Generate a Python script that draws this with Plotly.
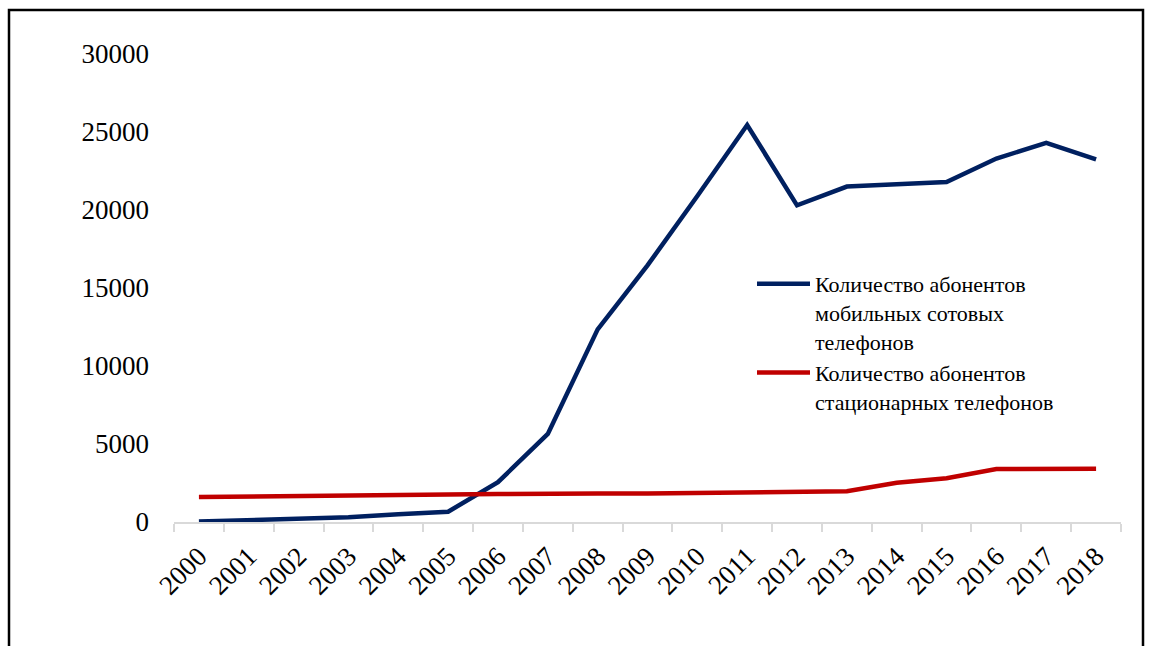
import plotly.graph_objects as go

years = [str(y) for y in range(2000, 2019)]
mobile = [30, 120, 170, 300, 500, 660, 2550, 5650, 12350, 16450, 20900, 25450,
          20300, 21500, 21650, 21800, 23300, 24300, 23250]
fixed = [1600, 1620, 1640, 1680, 1720, 1760, 1800, 1780, 1820, 1820, 1860, 1880,
         1940, 1970, 2520, 2800, 3400, 3430, 3420]

name_mobile = "Количество абонентов<br>мобильных сотовых<br>телефонов"
name_fixed = "Количество абонентов<br>стационарных телефонов"

FONT = "Liberation Serif"

# plot area in pixels (used to place the outer frame in paper units)
W, H = 1151, 646
L, R, T, B = 174, 30, 54, 124
pw, ph = W - L - R, H - T - B


def px_x(p):
    return (p - L) / pw


def px_y(p):
    return (H - B - p) / ph


fig = go.Figure()
fig.add_trace(go.Scatter(x=years, y=mobile, mode="lines", name=name_mobile,
                         line=dict(color="#002060", width=4.5)))
fig.add_trace(go.Scatter(x=years, y=fixed, mode="lines", name=name_fixed,
                         line=dict(color="#c00000", width=4.5)))

fig.update_layout(
    width=W, height=H,
    margin=dict(l=L, r=R, t=T, b=B, autoexpand=False),
    paper_bgcolor="white", plot_bgcolor="white",
    font=dict(family=FONT, color="black"),
    showlegend=True,
    legend=dict(x=px_x(752), y=px_y(263), xanchor="left", yanchor="top",
                bgcolor="rgba(0,0,0,0)", font=dict(size=22, family=FONT),
                valign="top", itemwidth=53, tracegroupgap=0),
    xaxis=dict(type="category", showgrid=False, showline=True,
               linecolor="#d9d9d9", linewidth=1.5,
               ticks="outside", tickson="boundaries", ticklen=8,
               tickcolor="#d9d9d9", tickwidth=1.5,
               tickangle=-45, tickfont=dict(size=27, family=FONT),
               ticklabelstandoff=6, range=[-0.5, 18.5]),
    yaxis=dict(range=[0, 30000], tickvals=[0, 5000, 10000, 15000, 20000, 25000, 30000],
               ticktext=["0", "5000", "10000", "15000", "20000", "25000", "30000"],
               showgrid=False, showline=False, zeroline=False, ticks="",
               ticklabelstandoff=24, tickfont=dict(size=27, family=FONT)),
    shapes=[dict(type="rect", xref="paper", yref="paper",
                 x0=px_x(9), x1=px_x(1143), y0=px_y(700), y1=px_y(10),
                 line=dict(color="black", width=2.5), layer="above")],
)

fig.write_html("out.html")
